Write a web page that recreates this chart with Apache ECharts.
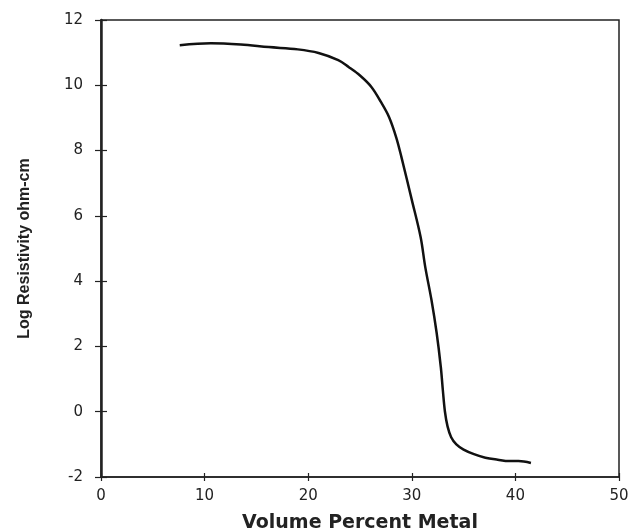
<!DOCTYPE html>
<html><head><meta charset="utf-8">
<script src="https://cdn.jsdelivr.net/npm/echarts@6/dist/echarts.min.js"></script>
<style>html,body{margin:0;padding:0;background:#fff}#c{width:635px;height:531px}</style>
</head><body><div id="c"></div>
<script>
const volumePercent = [7.6, 10.6, 13.5, 16.2, 19.0, 21.0, 22.9, 23.9, 25.0, 26.1, 27.0, 27.8, 28.5, 29.0, 30.0, 30.85, 31.3, 31.9, 32.4, 32.8, 33.0, 33.2, 33.45, 33.8, 34.3, 35.0, 36.0, 37.1, 38.3, 39.4, 40.3, 41.5];
const logResistivity = [11.23, 11.29, 11.25, 11.17, 11.10, 10.99, 10.77, 10.56, 10.30, 9.95, 9.50, 9.03, 8.40, 7.80, 6.49, 5.35, 4.43, 3.42, 2.41, 1.37, 0.65, 0.00, -0.45, -0.78, -1.00, -1.16, -1.30, -1.41, -1.47, -1.51, -1.51, -1.57];
const xTicks = [0, 10, 20, 30, 40, 50];
const yTicks = [-2, 0, 2, 4, 6, 8, 10, 12];

const chart = echarts.init(document.getElementById('c'), null, {renderer: 'canvas'});
const lab = {fontFamily: 'DejaVu Sans, sans-serif', fontSize: 15, color: '#222'};
const points = volumePercent.map((v, i) => [v, logResistivity[i]]);
chart.setOption({
  animation: false,
  backgroundColor: '#fff',
  grid: {left: 101, right: 16, top: 20, bottom: 54, containLabel: false, outerBoundsMode: 'none',
         show: true, borderColor: '#222', borderWidth: 1.5, backgroundColor: 'transparent'},
  xAxis: [{
    type: 'value', min: xTicks[0], max: xTicks[xTicks.length - 1], interval: 10,
    axisLine: {show: true, onZero: false, lineStyle: {color: '#222', width: 1.5}},
    axisTick: {show: true, inside: true, length: 4, lineStyle: {color: '#222', width: 1.2}},
    axisLabel: Object.assign({margin: 12}, lab),
    splitLine: {show: false},
    name: 'Volume Percent Metal', nameLocation: 'middle', nameGap: 37,
    nameTextStyle: {fontFamily: 'DejaVu Sans, sans-serif', fontWeight: 'bold', fontSize: 19, color: '#222'}
  }, {
    type: 'value', min: xTicks[0], max: xTicks[xTicks.length - 1], interval: 10, position: 'bottom', offset: 0,
    axisLine: {show: true, onZero: false, lineStyle: {color: 'rgba(0,0,0,0)', width: 0}},
    axisLabel: {show: false}, splitLine: {show: false},
    axisTick: {show: true, inside: false, length: 4, lineStyle: {color: '#222', width: 1.2}}
  }],
  yAxis: [{
    type: 'value', min: yTicks[0], max: yTicks[yTicks.length - 1], interval: 2,
    axisLine: {show: true, onZero: false, lineStyle: {color: '#222', width: 2.5}},
    axisTick: {show: true, inside: true, length: 6, lineStyle: {color: '#222', width: 1.2}},
    axisLabel: Object.assign({margin: 18}, lab),
    splitLine: {show: false},
    name: 'Log Resistivity ohm-cm', nameLocation: 'middle', nameGap: 68, nameRotate: 90,
    nameTextStyle: {fontFamily: 'Liberation Sans Narrow, Liberation Sans, sans-serif', fontWeight: 'bold', fontSize: 16, color: '#222'}
  }, {
    type: 'value', min: yTicks[0], max: yTicks[yTicks.length - 1], interval: 2, position: 'left', offset: 0,
    axisLine: {show: true, onZero: false, lineStyle: {color: 'rgba(0,0,0,0)', width: 0}},
    axisLabel: {show: false}, splitLine: {show: false},
    axisTick: {show: true, inside: false, length: 6, lineStyle: {color: '#222', width: 1.2}}
  }],
  series: [{
    type: 'line', xAxisIndex: 0, yAxisIndex: 0,
    data: points,
    smooth: 0.35, showSymbol: false,
    lineStyle: {color: '#111', width: 2.5}
  }, {
    type: 'line', xAxisIndex: 1, yAxisIndex: 1, silent: true,
    data: points, showSymbol: false, smooth: 0.35,
    lineStyle: {opacity: 0}
  }]
});
</script></body></html>
